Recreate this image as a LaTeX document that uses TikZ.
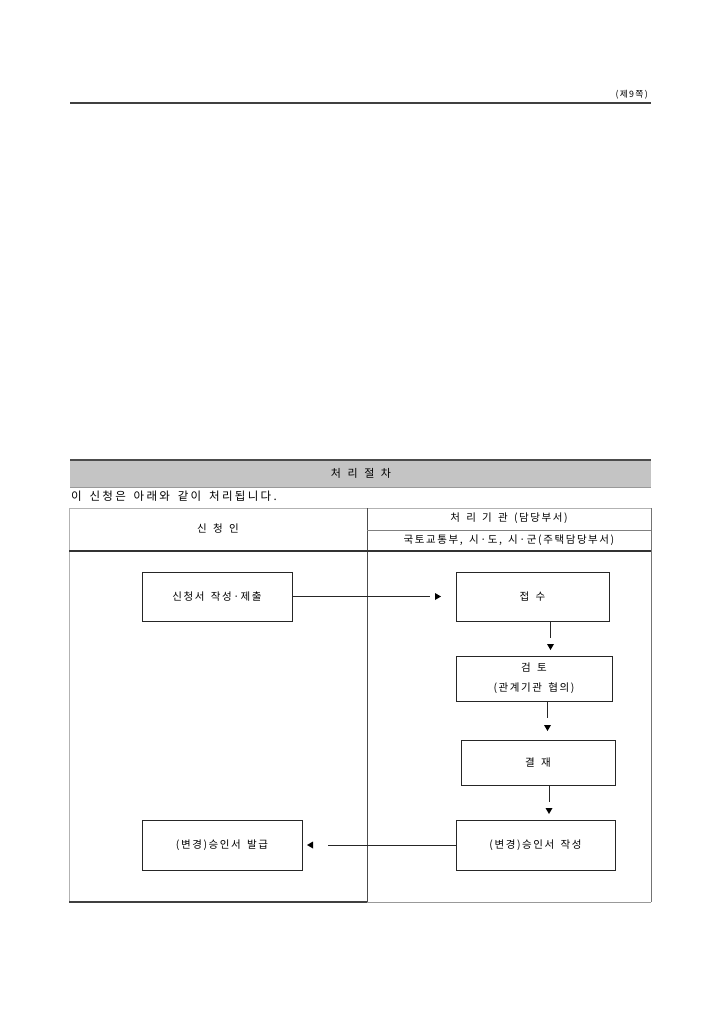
\documentclass[tikz,border=0pt]{standalone}
\usepackage{fontspec}
\setmainfont{Noto Sans CJK KR}[LetterSpace=15,WordSpace=1.6]
\usetikzlibrary{positioning}
\tikzset{
  box/.style={draw=black!85, line width=0.8pt, fill=white, inner sep=0pt, align=center, font=\fontsize{10.5}{20}\selectfont},
  txt/.style={inner sep=0pt, font=\fontsize{10.5}{12}\selectfont},
  conn/.style={draw=black!85, line width=0.8pt},
  tip/.style={fill=black}
}
\begin{document}
\begin{tikzpicture}[x=1pt,y=-1pt]
\useasboundingbox (0,0) rectangle (720,1016);
% header
\draw[line width=1.2pt, black!75] (70,103) -- (651,103);
\node[txt, anchor=east, font=\fontsize{8.8}{10}\selectfont] (page) at (648,95) {(제9쪽)};
% grey band
\fill[black!23] (70,460) rectangle (651,487);
\draw[line width=1.8pt, black!70] (70,460) -- (651,460);
\draw[line width=0.6pt, black!40] (70,487) -- (651,487);
\node[txt, font=\fontsize{11}{12}\selectfont] (title) at (361,473) {처 리 절 차};
\node[txt, anchor=west, font=\fontsize{11.5}{12}\selectfont\addfontfeature{LetterSpace=20}] (intro) at (71,496) {이 신청은 아래와 같이 처리됩니다.};
% table frame
\draw[line width=0.7pt, black!30] (69,508) -- (651,508);
\draw[line width=0.7pt, black!30] (69,508) -- (69,902);
\draw[line width=0.8pt, black!55] (651,508) -- (651,902);
\draw[line width=0.9pt, black!70] (367,508) -- (367,902);
\draw[line width=0.8pt, black!50] (367,530) -- (651,530);
\draw[line width=1.4pt, black!80] (69,551) -- (651,551);
\draw[line width=1.3pt, black!75] (69,902) -- (367,902);
\draw[line width=0.8pt, black!40] (367,902) -- (651,902);
\node[txt] (h1) at (218,529) {신 청 인};
\node[txt] (h2) at (509,518) {처 리 기 관 (담당부서)};
\node[txt] (h3) at (509,540.5) {국토교통부, 시·도, 시·군(주택담당부서)};
% boxes
\node[box, minimum width=150pt, minimum height=49pt] (n1) at (217,596.5) {신청서 작성·제출};
\node[box, minimum width=153pt, minimum height=49pt] (n2) at (532.5,596.5) {접 수};
\node[box, minimum width=156pt, minimum height=45pt] (n3) at (534,678.5) {검 토\\(관계기관 협의)};
\node[box, minimum width=154pt, minimum height=45pt] (n4) at (538,762.5) {결 재};
\node[box, minimum width=159pt, minimum height=50pt] (n5) at (535.5,845) {(변경)승인서 작성};
\node[box, minimum width=160pt, minimum height=50pt] (n6) at (222,845) {(변경)승인서 발급};
% connectors
\coordinate (e1) at (430,596.5);
\coordinate (t1) at (441,596.5);
\draw[conn] (n1.east) -- (e1);
\fill[tip] (t1) -- ++(-6,-3.5) -- ++(0,7) -- cycle;

\coordinate (s2) at (n2.south -| 550.5,0);
\coordinate (e2) at (550.5,638);
\coordinate (t2) at (550.5,650);
\draw[conn] (s2) -- (e2);
\fill[tip] (t2) -- ++(-3.5,-6) -- ++(7,0) -- cycle;

\coordinate (s3) at (n3.south -| 547.5,0);
\coordinate (e3) at (547.5,718);
\coordinate (t3) at (547.5,731);
\draw[conn] (s3) -- (e3);
\fill[tip] (t3) -- ++(-3.5,-6) -- ++(7,0) -- cycle;

\coordinate (s4) at (n4.south -| 549,0);
\coordinate (e4) at (549,802);
\coordinate (t4) at (549,814);
\draw[conn] (s4) -- (e4);
\fill[tip] (t4) -- ++(-3.5,-6) -- ++(7,0) -- cycle;

\coordinate (e5) at (328,845);
\coordinate (t5) at (307,845);
\draw[conn] (n5.west) -- (e5);
\fill[tip] (t5) -- ++(6,-3.5) -- ++(0,7) -- cycle;
\end{tikzpicture}
\end{document}
